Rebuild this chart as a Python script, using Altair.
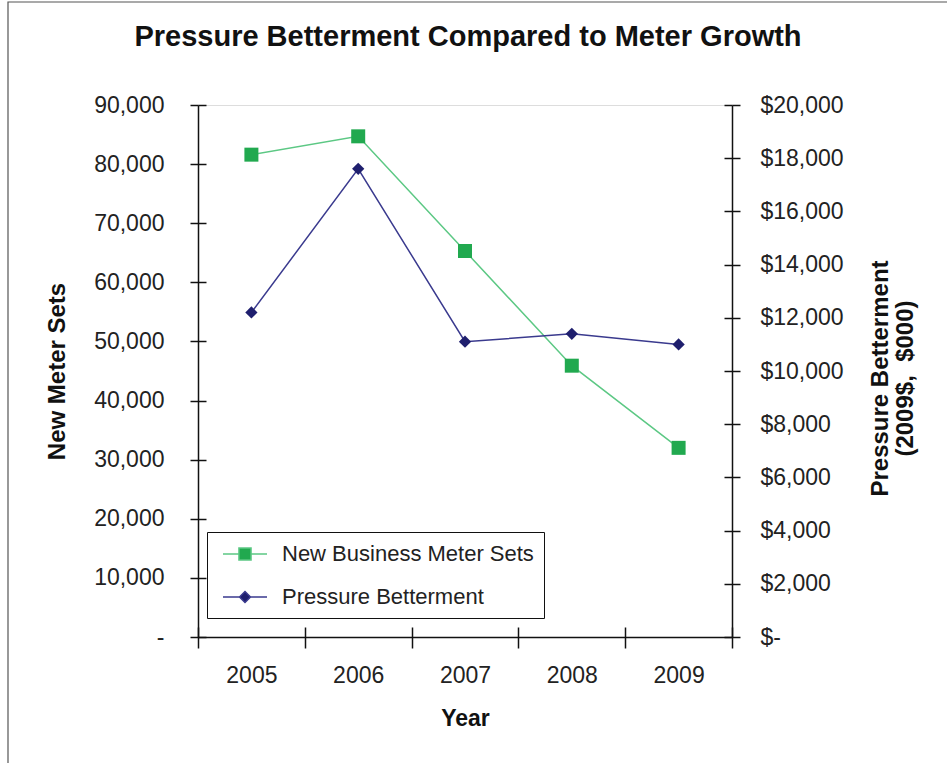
import altair as alt
import pandas as pd

years = ['2005', '2006', '2007', '2008', '2009']
meter_sets = [81600, 84700, 65300, 45900, 32000]
pressure = [12200, 17600, 11100, 11400, 11000]
series_names = ['New Business Meter Sets', 'Pressure Betterment']
left_ticks = [0, 10000, 20000, 30000, 40000, 50000, 60000, 70000, 80000, 90000]
right_ticks = [0, 2000, 4000, 6000, 8000, 10000, 12000, 14000, 16000, 18000, 20000]

meter_df = pd.DataFrame({'Year': years, 'Value': meter_sets, 'Series': series_names[0]})
press_df = pd.DataFrame({'Year': years, 'Value': pressure, 'Series': series_names[1]})
legend_df = pd.DataFrame({'Series': series_names})

FONT = 'Liberation Sans'
GREEN_LINE = '#5CC884'
GREEN = '#21A94F'
NAVY_LINE = '#3A3A8E'
NAVY = '#1F1F6E'
AXIS_COL = '#111111'
TXT = '#222222'

x_scale = alt.Scale(type='band', domain=years, paddingInner=0, paddingOuter=0)
left_scale = alt.Scale(domain=[0, 90000], nice=False, zero=True)
right_scale = alt.Scale(domain=[0, 20000], nice=False, zero=True)

SQUARE = "M-2,0L-0.55,0M0.55,0L2,0M-0.55,-0.55L0.55,-0.55L0.55,0.55L-0.55,0.55Z"
DIAMOND = "M-2,0L-0.5,0M0.5,0L2,0M-0.5,0L0,-0.5L0.5,0L0,0.5Z"

legend = alt.Legend(
    orient='none', legendX=9, legendY=427, direction='vertical', title=None,
    padding=10, strokeColor='#111', fillColor='white',
    labelFont=FONT, labelFontSize=22, labelColor=TXT, labelLimit=600,
    symbolOffset=16, labelOffset=25, rowPadding=20, symbolSize=484,
    symbolStrokeWidth=1.5, symbolOpacity=1)

x_main = alt.X('Year:O', sort=years, scale=x_scale, axis=alt.Axis(
    title='Year', tickBand='extent', labelAngle=0, tickSize=11, tickWidth=1.5, tickColor=AXIS_COL,
    domainColor=AXIS_COL, domainWidth=1.5, labelFont=FONT, labelFontSize=23, labelColor=TXT,
    labelPadding=16, titleFont=FONT, titleFontSize=23, titleFontWeight='bold', titleColor='#111',
    titlePadding=20, grid=False))
x_none = alt.X('Year:O', sort=years, scale=x_scale, axis=None)

y_left = alt.Y('Value:Q', scale=left_scale, axis=alt.Axis(
    orient='left', values=left_ticks, tickSize=8, tickWidth=1.5, tickColor=AXIS_COL,
    domainColor=AXIS_COL, domainWidth=1.5, grid=False,
    labelExpr="datum.value == 0 ? '-\u00a0\u00a0' : format(datum.value, ',')",
    labelFont=FONT, labelFontSize=23, labelColor=TXT, labelPadding=26,
    title='New Meter Sets', titleFont=FONT, titleFontSize=24, titleFontWeight='bold',
    titleColor='#111', titlePadding=24))

y_right = alt.Y('Value:Q', scale=right_scale, axis=alt.Axis(
    orient='right', values=right_ticks, tickSize=8, tickWidth=1.5, tickColor=AXIS_COL,
    domainColor=AXIS_COL, domainWidth=1.5, grid=False,
    labelExpr="datum.value == 0 ? '$-' : '$' + format(datum.value, ',')",
    labelFont=FONT, labelFontSize=23, labelColor=TXT, labelPadding=20,
    title=['Pressure Betterment', '(2009$,\u00a0 $000)'], titleFont=FONT, titleFontSize=24,
    titleFontWeight='bold', titleColor='#111', titleAngle=270, titleAlign='center',
    titleBaseline='top', titleX=136, titleY=273, titleLineHeight=25))

meter_line = alt.Chart(meter_df).mark_line(color=GREEN_LINE, strokeWidth=1.5).encode(x=x_main, y=y_left)
meter_pts = alt.Chart(meter_df).mark_point(
    filled=True, size=196, opacity=1, color=GREEN, shape='square').encode(x=x_main, y=y_left)
left_layer = alt.layer(meter_line, meter_pts)

press_line = alt.Chart(press_df).mark_line(color=NAVY_LINE, strokeWidth=1.5).encode(x=x_none, y=y_right)
press_pts = alt.Chart(press_df).mark_point(
    filled=True, size=150, opacity=1, color=NAVY, shape='diamond').encode(x=x_none, y=y_right)
right_layer = alt.layer(press_line, press_pts)

# legend only (no rows drawn)
legend_layer = alt.Chart(legend_df).transform_filter('false').mark_point(
    opacity=1, strokeWidth=1.5).encode(
    fill=alt.Fill('Series:N', scale=alt.Scale(domain=series_names, range=[GREEN, NAVY]), legend=legend),
    stroke=alt.Stroke('Series:N', scale=alt.Scale(domain=series_names, range=[GREEN_LINE, NAVY_LINE]), legend=legend),
    shape=alt.Shape('Series:N', scale=alt.Scale(domain=series_names, range=[SQUARE, DIAMOND]), legend=legend),
)

# inner halves of the cross tick marks
left_inner = alt.Chart(meter_df).mark_point(opacity=0).encode(
    x=x_none,
    y=alt.Y('Value:Q', scale=left_scale, axis=alt.Axis(
        orient='left', offset=-8, tickSize=8, tickWidth=1.5, tickColor=AXIS_COL,
        values=left_ticks, labels=False, domain=False, title=None, grid=False)))
right_inner = alt.Chart(press_df).mark_point(opacity=0).encode(
    x=x_none,
    y=alt.Y('Value:Q', scale=right_scale, axis=alt.Axis(
        orient='right', offset=-8, tickSize=8, tickWidth=1.5, tickColor=AXIS_COL,
        values=right_ticks, labels=False, domain=False, title=None, grid=False)))
x_inner = alt.Chart(meter_df).mark_point(opacity=0).encode(
    x=alt.X('Year:O', sort=years, scale=x_scale, axis=alt.Axis(
        orient='bottom', offset=-10, tickSize=10, tickWidth=1.5, tickColor=AXIS_COL,
        tickBand='extent', labels=False, domain=False, title=None, grid=False)),
    y=alt.Y('Value:Q', scale=left_scale, axis=None))

frame = alt.Chart(pd.DataFrame({'f': [0]})).mark_rect(
    fillOpacity=0, stroke='#555555', strokeWidth=1.2).encode(
    x=alt.value(-190), y=alt.value(-103), x2=alt.value(1000), y2=alt.value(1000))

chart = alt.layer(
    frame, left_layer, right_layer, left_inner, right_inner, x_inner, legend_layer
).resolve_scale(
    x='independent', y='independent'
).properties(
    width=534, height=532,
    autosize='none',
    padding={'left': 198, 'top': 105, 'right': 215, 'bottom': 126},
    title=alt.Title('Pressure Betterment Compared to Meter Growth', font=FONT, fontSize=29,
                    fontWeight='bold', color='#111', anchor='middle', frame='group',
                    baseline='alphabetic', offset=-74, dx=3),
).configure_view(
    stroke='#999999', strokeWidth=1
).configure(background='white')

chart.save('out.html', embed_options={'renderer': 'svg', 'actions': False})
